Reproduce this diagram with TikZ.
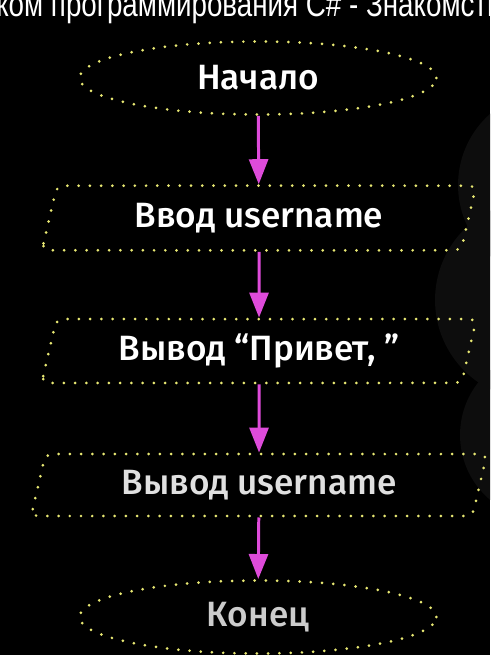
\documentclass[tikz,border=0pt]{standalone}
\usepackage{fontspec}
\setmainfont{Fira Sans}[UprightFont={* Medium}]
\newfontfamily\titlefont{Liberation Sans}
\usepackage{tikz}
\usetikzlibrary{positioning}
\usetikzlibrary{shapes.geometric}
\usetikzlibrary{arrows.meta}
\usepackage{xcolor}
\definecolor{dotyellow}{RGB}{232,232,115}
\definecolor{arrowpink}{RGB}{222,75,218}
\definecolor{blobgray}{RGB}{13,13,13}

\begin{document}
\begin{tikzpicture}[x=0.02cm, y=-0.02cm,
    dotline/.style={dotyellow, line width=1.7pt, line cap=round, dash pattern=on 0pt off 6.4pt},
    term/.style={ellipse, draw, dotline, minimum width=7.14cm, minimum height=1.46cm, text=white, font=\fontsize{20}{23}\selectfont},
    io/.style={trapezium, trapezium left angle=77, trapezium right angle=103, draw, dotline, rounded corners=4pt, minimum width=8.7cm, minimum height=1.24cm, text=white, font=\fontsize{20}{23}\selectfont},
    flow/.style={arrowpink, line width=1.7pt, -{Triangle[width=0.38cm, length=0.5cm]}}]
				    		\useasboundingbox (0, 0) rectangle (490, 655);
				    		\clip (0, 0) rectangle (490, 655);
				    		\fill[black] (0, 0) rectangle (490, 655);
				    		% faint shapes at the right edge
				    		\fill[blobgray] (553, 185) circle (1.9cm);
				    		\fill[blobgray] (535, 300) circle (2.0cm);
				    		\fill[blobgray] (545, 435) circle (1.7cm);
				    		\node[anchor=base west, inner sep=0pt, text=white, xscale=0.79, font=\titlefont\fontsize{20}{23}\selectfont] (title) at (-4, 17) {ком программирования C\# - Знакомств};
				    		\node[term] (start) at (258, 78) {Начало};
				    		\node[io] (input) at (259, 218) {Ввод username};
				    		\node[io] (hello) at (259, 351) {Вывод “Привет, ”};
				    		\node[io, text=white!88!black] (output) at (259, 485) {Вывод username};
				    		\node[term, text=white!80!black] (stop) at (258, 617) {Конец};
				    		\draw[flow] (start) -- (input);
				    		\draw[flow] (input) -- (hello);
				    		\draw[flow] (hello) -- (output);
				    		\draw[flow] (output) -- (stop);
						\end{tikzpicture}
\end{document}
